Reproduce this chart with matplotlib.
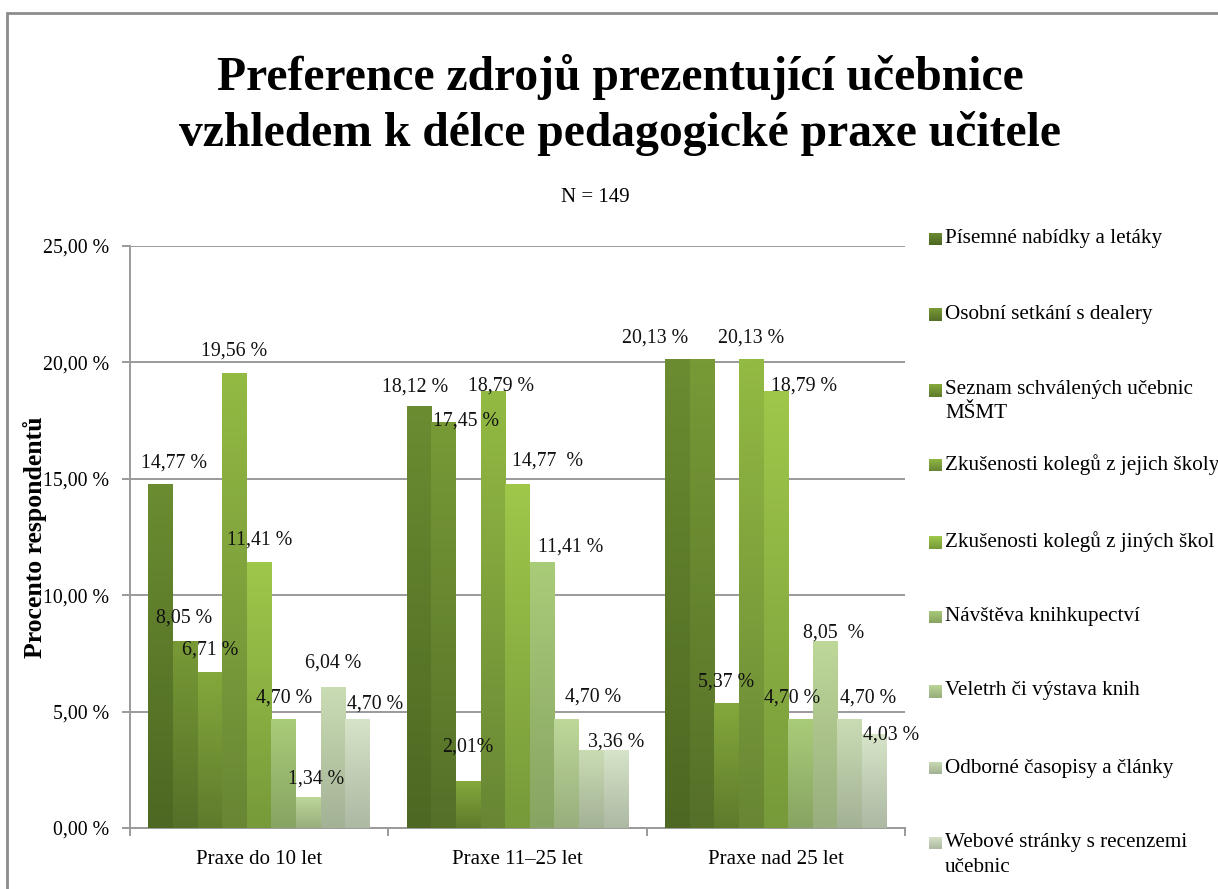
import numpy as np
import matplotlib
matplotlib.use('Agg')
import matplotlib.pyplot as plt
from matplotlib.patches import Rectangle
from matplotlib.colors import to_rgb
from matplotlib.ticker import FuncFormatter, FixedLocator

plt.rcParams['font.family'] = ['Liberation Serif', 'DejaVu Serif']

# data
groups = ['Praxe do 10 let', 'Praxe 11–25 let', 'Praxe nad 25 let']
sources = ['Písemné nabídky a letáky',
           'Osobní setkání s dealery',
           'Seznam schválených učebnic\nMŠMT',
           'Zkušenosti kolegů z jejich školy',
           'Zkušenosti kolegů z jiných škol',
           'Návštěva knihkupectví',
           'Veletrh či výstava knih',
           'Odborné časopisy a články',
           'Webové stránky s recenzemi\nučebnic']

# one list per group, values in the order of sources
praxe_do_10 = [14.77, 8.05, 6.71, 19.56, 11.41, 4.70, 1.34, 6.04, 4.70]
praxe_11_25 = [18.12, 17.45, 2.01, 18.79, 14.77, 11.41, 4.70, 3.36, 3.36]
praxe_nad_25 = [20.13, 20.13, 5.37, 20.13, 18.79, 4.70, 8.05, 4.70, 4.03]
values = [praxe_do_10, praxe_11_25, praxe_nad_25]

# data labels as shown in the chart ('' = no label)
labels_do_10 = ['14,77 %', '8,05 %', '6,71 %', '19,56 %', '11,41 %', '4,70 %', '1,34 %', '6,04 %', '4,70 %']
labels_11_25 = ['18,12 %', '17,45 %', '2,01%', '18,79 %', '14,77  %', '11,41 %', '4,70 %', '', '3,36 %']
labels_nad_25 = ['20,13 %', '', '5,37 %', '20,13 %', '18,79 %', '4,70 %', '8,05  %', '4,70 %', '4,03 %']
bar_labels = [labels_do_10, labels_11_25, labels_nad_25]

# label nudges in pixels (dx, dy of label centre above bar top)
nudge = [
    [(13, 21), (-1, 23), (0, 22), (0, 22), (0, 22), (0, 21), (8, 18), (0, 24), (17, 15)],
    [(-4, 19), (22, 1), (0, 34), (8, 5), (30, 23), (28, 15), (26, 22), (0, 0), (0, 8)],
    [(-22, 21), (0, 0), (0, 21), (0, 21), (28, 5), (-8, 21), (8, 8), (18, 21), (17, -1)],
]

# gradient colours per series (top, bottom)
top_cols = ['#6b8c31', '#789a36', '#85a83c', '#93ba43', '#9fc74a',
            '#a9cc79', '#bed89a', '#cadcb4', '#d6e4c8']
bot_cols = ['#4d6822', '#557028', '#5e7b2c', '#688634', '#779a3a',
            '#88a462', '#98ae7c', '#a3b295', '#adb9a3']


def gradient(i, steps=64):
    t = np.array(to_rgb(top_cols[i]))
    b = np.array(to_rgb(bot_cols[i]))
    f = np.linspace(0, 1, steps)[:, None]
    return (t * (1 - f) + b * f)[:, None, :]


W, H = 1218, 889
fig = plt.figure(figsize=(W / 100, H / 100), dpi=100)
ax = fig.add_axes([130 / W, 1 - 828 / H, 775 / W, 582 / H])

n = len(sources)
bw = 0.0954
x = np.arange(len(groups))
gray = '#9a9a9a'
fs = 14.3

# bars: invisible rectangles, filled with a vertical gradient clipped to them
for i in range(n):
    heights = [values[g][i] for g in range(len(groups))]
    pos = x + (i - (n - 1) / 2) * bw
    bars = ax.bar(pos, heights, bw, facecolor='none', edgecolor='none', zorder=3)
    grad = gradient(i)
    for bar in bars:
        x0, w, h = bar.get_x(), bar.get_width(), bar.get_height()
        im = ax.imshow(grad, extent=(x0, x0 + w, 0, h), aspect='auto',
                       interpolation='bilinear', zorder=3, origin='upper')
        im.set_clip_path(bar)

for g in range(len(groups)):
    for i in range(n):
        txt = bar_labels[g][i]
        if not txt:
            continue
        xc = x[g] + (i - (n - 1) / 2) * bw
        dx, dy = nudge[g][i]
        ax.annotate(txt, (xc, values[g][i]), xytext=(dx, dy),
                    textcoords='offset pixels', ha='center', va='center',
                    fontsize=fs, color='#111111', zorder=5)

ax.set_xlim(-0.5, 2.5)
ax.set_ylim(0, 25)
ax.set_yticks(np.arange(0, 26, 5))
ax.yaxis.set_major_formatter(FuncFormatter(lambda v, p: f'{v:.2f}'.replace('.', ',') + ' %'))
ax.grid(axis='y', color=gray, lw=1.4, zorder=1)
ax.set_axisbelow(True)

ax.xaxis.set_major_locator(FixedLocator([-0.5, 0.5, 1.5, 2.5]))
ax.xaxis.set_minor_locator(FixedLocator(list(x)))
ax.set_xticklabels([], minor=False)
ax.set_xticklabels(groups, minor=True)
ax.tick_params(axis='x', which='minor', length=0, labelsize=15, pad=16)
ax.tick_params(axis='x', which='major', length=6, width=1.4, color=gray)
ax.tick_params(axis='y', length=6, width=1.4, color=gray, labelsize=fs, pad=9)

for s in ['top', 'right']:
    ax.spines[s].set_visible(False)
for s in ['left', 'bottom']:
    ax.spines[s].set_color(gray)
    ax.spines[s].set_linewidth(1.4)

ax.yaxis.set_label_coords(-95 / 775, 0.5)
ax.set_ylabel('Procento respondentů', fontsize=18.5, fontweight='bold', va='center')

fig.text(620 / W, 1 - 105 / H,
         'Preference zdrojů prezentující učebnice\nvzhledem k délce pedagogické praxe učitele',
         ha='center', va='center', fontsize=34.3, fontweight='bold', linespacing=1.29)
fig.text(595 / W, 1 - 197 / H, 'N = 149', ha='center', va='center', fontsize=15)

# legend, markers with the same gradient as the bars
leg_y = [239, 315, 390, 465, 542, 617, 691, 768, 843]
for i in range(n):
    yc = leg_y[i]
    sax = fig.add_axes([929 / W, 1 - (yc + 6.5) / H, 13 / W, 13 / H])
    sax.imshow(gradient(i, 16), aspect='auto', interpolation='bilinear')
    sax.axis('off')
    for j, line in enumerate(sources[i].split('\n')):
        fig.text(945 / W, 1 - (yc + j * 24) / H, line, ha='left', va='center', fontsize=15.2)

# outer frame (only left and top edges are visible)
fig.add_artist(Rectangle((7 / W, -0.1), 1.2, 1 - 13 / H + 0.1, transform=fig.transFigure,
                         fill=False, edgecolor='#8c8c8c', lw=2))

fig.savefig('out.png', dpi=100)
